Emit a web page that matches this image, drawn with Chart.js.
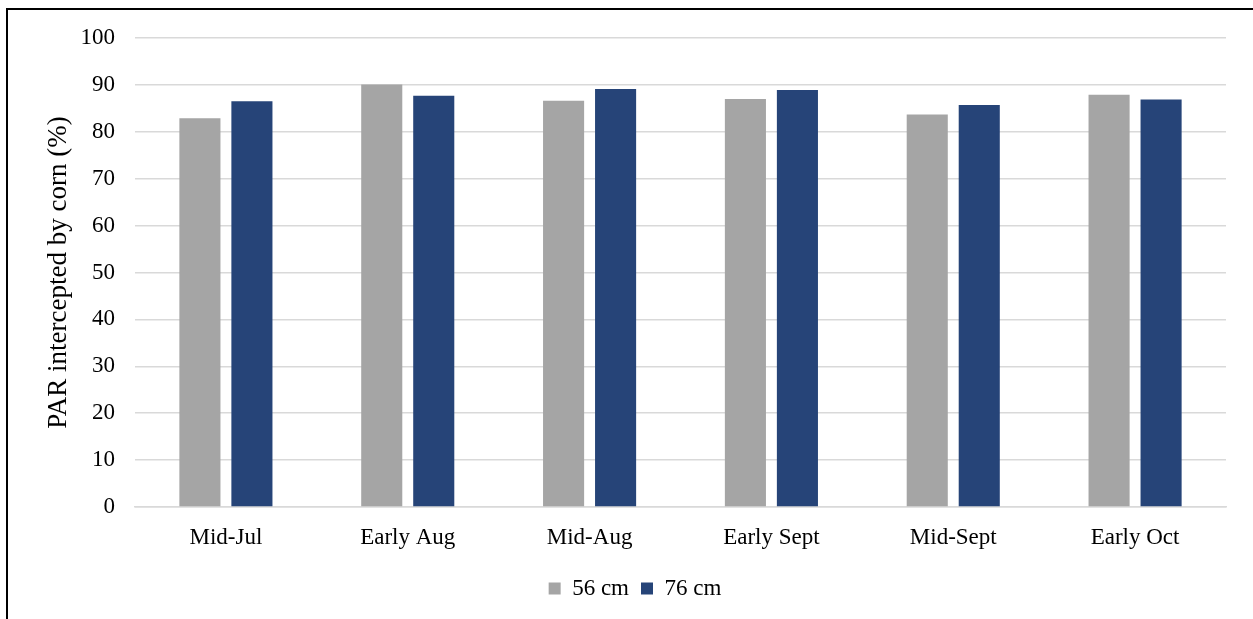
<!DOCTYPE html>
<html lang="en">
<head>
    <meta charset="UTF-8">
    <title>PAR intercepted by corn</title>
    <style>
        body {
            margin: 0;
            padding: 0;
            background: #fff;
        }
        .frame {
            position: absolute;
            left: 6px;
            top: 8px;
            width: 1300px;
            height: 700px;
            border-left: 2px solid #000;
            border-top: 2px solid #000;
        }
        .wrap {
            position: absolute;
            left: 0;
            top: 0;
            width: 1253px;
            height: 619px;
        }
    </style>
</head>
<body>
    <div class="frame"></div>
    <div class="wrap">
        <canvas id="myChart"></canvas>
    </div>

    <script src="https://cdn.jsdelivr.net/npm/chart.js"></script>
    <script>
        const categories = ['Mid-Jul', 'Early Aug', 'Mid-Aug', 'Early Sept', 'Mid-Sept', 'Early Oct'];
        const rows56 = [82.9, 90.1, 86.6, 87.0, 83.7, 87.9];
        const rows76 = [86.5, 87.7, 89.1, 88.9, 85.7, 86.9];
        const yTicks = [0, 10, 20, 30, 40, 50, 60, 70, 80, 90, 100];

        const serif = 'Liberation Serif, Times New Roman, serif';

        const ctx = document.getElementById('myChart').getContext('2d');
        const myChart = new Chart(ctx, {
            type: 'bar',
            data: {
                labels: categories,
                datasets: [{
                    label: '56 cm',
                    data: rows56,
                    backgroundColor: '#a5a5a5'
                }, {
                    label: '76 cm',
                    data: rows76,
                    backgroundColor: '#264478'
                }]
            },
            options: {
                responsive: true,
                maintainAspectRatio: false,
                animation: false,
                categoryPercentage: 0.572,
                barPercentage: 0.79,
                layout: {
                    padding: { left: 0, right: 27, top: 38, bottom: 9 }
                },
                plugins: {
                    tooltip: { enabled: false },
                    legend: {
                        position: 'bottom',
                        labels: {
                            boxWidth: 12,
                            boxHeight: 12,
                            padding: 12,
                            color: '#000',
                            font: { family: serif, size: 23 }
                        }
                    }
                },
                scales: {
                    x: {
                        grid: { display: false },
                        border: { display: true, color: '#d9d9d9', width: 1.5 },
                        ticks: {
                            color: '#000',
                            padding: 9,
                            font: { family: serif, size: 23 }
                        },
                        afterFit: function (axis) { axis.height = 58; }
                    },
                    y: {
                        min: 0,
                        max: 100,
                        afterBuildTicks: function (axis) {
                            axis.ticks = yTicks.map(v => ({ value: v }));
                        },
                        grid: { color: '#d9d9d9', lineWidth: 1.5, drawTicks: false },
                        border: { display: false },
                        ticks: {
                            color: '#000',
                            padding: 20,
                            font: { family: serif, size: 23 }
                        },
                        title: {
                            display: true,
                            text: 'PAR intercepted by corn (%)',
                            color: '#000',
                            padding: { top: 0, bottom: 0 },
                            font: { family: serif, size: 27, weight: 'normal' }
                        },
                        afterFit: function (axis) { axis.width = 135; }
                    }
                }
            },
            plugins: [{
                id: 'tweaks',
                afterLayout: function (chart) {
                    // nudge the y title and the legend to where the original has them
                    chart.scales.y.options.title.padding = { top: 43, bottom: 0 };
                    chart.legend.left += 22;
                    chart.legend.right += 22;
                }
            }]
        });
    </script>
</body>
</html>
